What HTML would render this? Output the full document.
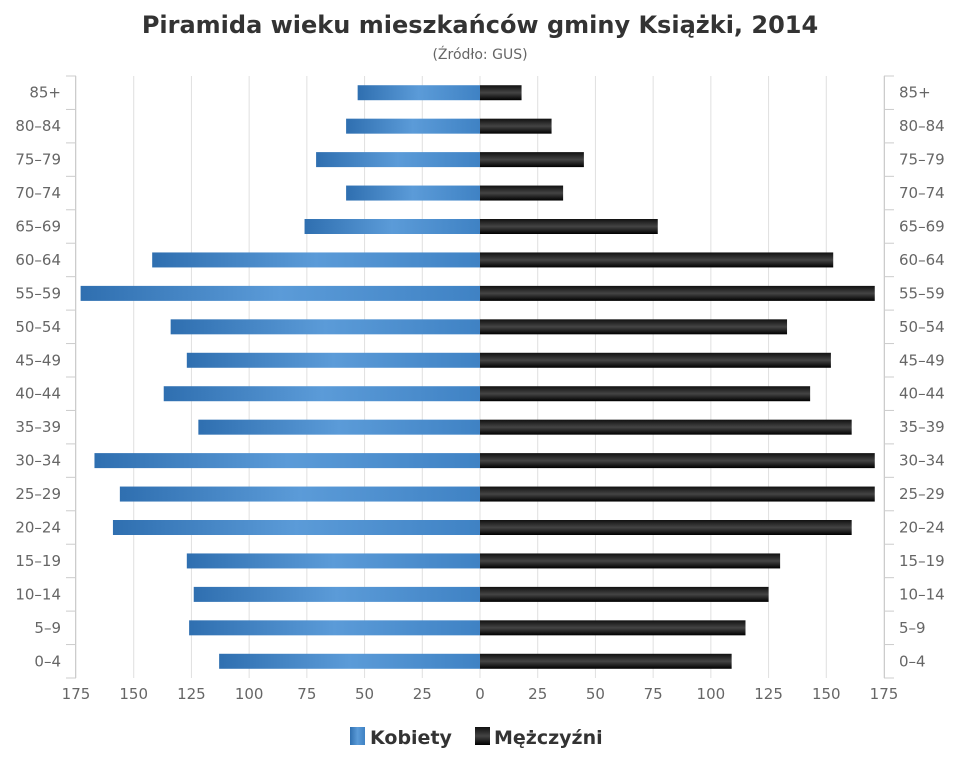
<!DOCTYPE html>
<html><head><meta charset="utf-8"><style>
body{margin:0;background:#fff;font-family:"Liberation Sans",sans-serif}
svg text{font-family:"DejaVu Sans","Liberation Sans",sans-serif}
</style></head><body>
<svg id="c" width="960" height="768" viewBox="0 0 960 768">
<defs>
<linearGradient id="gb" x1="0" y1="0" x2="1" y2="0"><stop offset="0" stop-color="#2f6fb0"/><stop offset="0.5" stop-color="#5b9bd8"/><stop offset="1" stop-color="#3f82c4"/></linearGradient>
<linearGradient id="gk" x1="0" y1="0" x2="0" y2="1"><stop offset="0" stop-color="#111"/><stop offset="0.5" stop-color="#444"/><stop offset="1" stop-color="#000"/></linearGradient>
</defs>
<text x="480" y="33" text-anchor="middle" font-size="24" font-weight="bold" fill="#333">Piramida wieku mieszkańców gminy Książki, 2014</text>
<text x="480" y="59" text-anchor="middle" font-size="14" fill="#666">(Źródło: GUS)</text>
<g id="grid"></g><g id="bars"></g><g id="axes"></g>
<g>
<g><rect x="350" y="727" width="15" height="18" fill="url(#gb)"/><text x="370" y="744" font-size="19" font-weight="bold" fill="#333">Kobiety</text></g>
<g><rect x="475" y="727" width="15" height="18" fill="url(#gk)"/><text x="494" y="744" font-size="19" font-weight="bold" fill="#333">Mężczyźni</text></g>
</g>
</svg>
<script>
const categories=["85+","80-84","75-79","70-74","65-69","60-64","55-59","50-54","45-49","40-44","35-39","30-34","25-29","20-24","15-19","10-14","5-9","0-4"];
const female=[53,58,71,58,76,142,173,134,127,137,122,167,156,159,127,124,126,113];
const male=[18,31,45,36,77,153,171,133,152,143,161,171,171,161,130,125,115,109];
const ticks=[175,150,125,100,75,50,25,0,25,50,75,100,125,150,175];
const NS="http://www.w3.org/2000/svg";
const cx=480,unit=(884-480)/175,pTop=76,pBot=678;
const rowH=(pBot-pTop)/categories.length;
const xL=v=>cx-v*unit, xR=v=>cx+v*unit, yC=i=>pTop+rowH*(i+0.5);
function mk(t,a,p){const e=document.createElementNS(NS,t);for(const k in a)e.setAttribute(k,a[k]);p.appendChild(e);return e;}
const grid=document.getElementById('grid'),bars=document.getElementById('bars'),axes=document.getElementById('axes');
ticks.forEach((t,i)=>{const x=i<7?xL(t):xR(t);
 const l=mk('line',{x1:x,x2:x,y1:pTop,y2:pBot,stroke:'#e0e0e0','stroke-width':1},grid);
 
 
 const tx=mk('text',{x:x,y:699,'text-anchor':'middle','font-size':15,fill:'#666'},axes);tx.textContent=t;
 
 
});
mk('line',{x1:75.5,x2:75.5,y1:pTop,y2:pBot,stroke:'#ccc'},axes);
mk('line',{x1:884.5,x2:884.5,y1:pTop,y2:pBot,stroke:'#ccc'},axes);
for(let i=0;i<=categories.length;i++){const y=pTop+rowH*i;
 mk('line',{x1:66,x2:76,y1:y,y2:y,stroke:'#ccc'},axes);
 mk('line',{x1:884,x2:894,y1:y,y2:y,stroke:'#ccc'},axes);}
categories.forEach((c,i)=>{const y=yC(i);
 const a=mk('text',{x:61,y:y+5,'text-anchor':'end','font-size':15,fill:'#666'},axes);a.textContent=c.replace('-','–');
 
 
 const b=mk('text',{x:899,y:y+5,'font-size':15,fill:'#666'},axes);b.textContent=c.replace('-','–');
 
 
 const f=mk('rect',{x:xL(female[i]),y:y-7.5,width:female[i]*unit,height:15,fill:'url(#gb)'},bars);
 
 
 const m=mk('rect',{x:cx,y:y-7.5,width:male[i]*unit,height:15,fill:'url(#gk)'},bars);
 
 
});
</script>
</body></html>
